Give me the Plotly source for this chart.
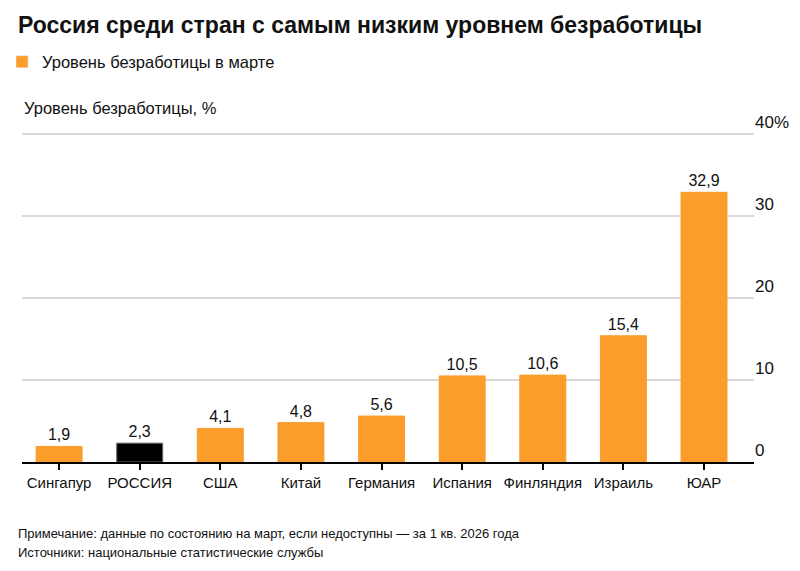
import plotly.graph_objects as go

categories = ["Сингапур", "РОССИЯ", "США", "Китай", "Германия", "Испания", "Финляндия", "Израиль", "ЮАР"]
values = [1.9, 2.3, 4.1, 4.8, 5.6, 10.5, 10.6, 15.4, 32.9]
highlight = "РОССИЯ"
tick_vals = [0, 10, 20, 30, 40]
tick_text = ["0", "10", "20", "30", "40%"]

ORANGE = "#FA9D2B"
BLACK = "#000000"
TXT = "#111111"
FONT = "Liberation Sans, Arial, sans-serif"

colors = [BLACK if c == highlight else ORANGE for c in categories]
line_colors = ["#666666" if c == highlight else ORANGE for c in categories]
labels = [f"{v:.1f}".replace(".", ",") for v in values]

fig = go.Figure()
fig.add_trace(go.Bar(
    x=categories, y=values, marker=dict(color=colors, line=dict(color=line_colors, width=1)),
    width=0.57, text=labels, textposition="outside", cliponaxis=False,
    textfont=dict(size=16, color=TXT, family=FONT), showlegend=False, hoverinfo="x+y",
))
fig.add_trace(go.Bar(
    x=[categories[0]], y=[None], marker=dict(color=ORANGE), name="Уровень безработицы в марте",
    showlegend=True,
))

fig.update_layout(
    width=800, height=571,
    margin=dict(l=22, r=46, t=130, b=109, autoexpand=False),
    paper_bgcolor="white", plot_bgcolor="white",
    barmode="overlay",
    font=dict(family=FONT, color=TXT, size=15),
    title=dict(text="<b>Россия среди стран с самым низким уровнем безработицы</b>",
               x=18/800, xref="container", xanchor="left",
               y=1-25/571, yref="container", yanchor="middle",
               font=dict(size=23, family=FONT, color=TXT)),
    legend=dict(x=2/800, y=1-62/571, xref="container", yref="container", xanchor="left", yanchor="middle",
                font=dict(size=16.5, color=TXT), bgcolor="rgba(0,0,0,0)"),
    xaxis=dict(type="category", range=[-0.46, 8.62], showline=True, linecolor="#000", linewidth=1.5,
               ticks="outside", ticklen=6, tickwidth=1.5, tickcolor="#000", showgrid=False,
               tickangle=0, tickfont=dict(size=15, color=TXT)),
    yaxis=dict(side="right", range=[0, 40.5], tickvals=tick_vals, ticktext=tick_text,
               showgrid=True, gridcolor="#D9D9D9", gridwidth=1.5, zeroline=False, showline=False,
               ticklabelposition="outside top", tickfont=dict(size=17, color=TXT)),
    annotations=[
        dict(text="Уровень безработицы, %", x=0, y=1+(130-108)/332, xref="paper", yref="paper",
             xanchor="left", yanchor="middle", showarrow=False, font=dict(size=16.5, color=TXT)),
        dict(text="Примечание: данные по состоянию на март, если недоступны — за 1 кв. 2026 года",
             x=(16-22)/732, y=(462-533)/332, xref="paper", yref="paper", xanchor="left", yanchor="middle",
             showarrow=False, font=dict(size=13, color=TXT)),
        dict(text="Источники: национальные статистические службы",
             x=(16-22)/732, y=(462-552)/332, xref="paper", yref="paper", xanchor="left", yanchor="middle",
             showarrow=False, font=dict(size=13, color=TXT)),
    ],
)

fig.write_html("out.html")
